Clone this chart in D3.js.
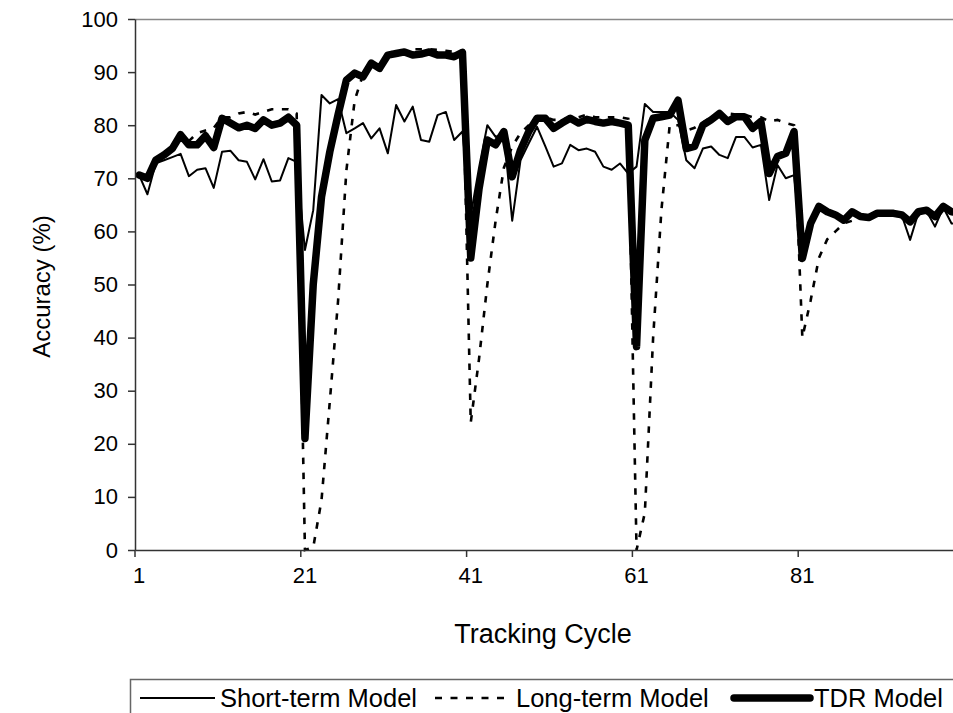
<!DOCTYPE html>
<html>
<head>
<meta charset="utf-8">
<script src="https://cdn.jsdelivr.net/npm/d3@7"></script>
<style>
  html, body { margin: 0; padding: 0; background: #fff; }
  svg { display: block; }
  text { font-family: "Liberation Sans", Arial, Helvetica, sans-serif; fill: #000; }
</style>
</head>
<body>
<svg id="chart" width="953" height="713"></svg>
<script>
// Tracking cycles 1..100
const cycles = d3.range(1, 101);

// Accuracy (%) per tracking cycle
const shortTerm = [
  70.6, 67.0, 72.8, 73.4, 74.0, 74.6, 70.4, 71.6, 71.9, 68.2,
  75.0, 75.2, 73.4, 73.1, 69.8, 73.6, 69.4, 69.6, 73.8, 73.1,
  56.5, 64.0, 85.7, 84.1, 84.9, 78.5, 79.4, 80.4, 77.5, 79.4,
  74.7, 83.8, 80.7, 83.5, 77.2, 76.9, 81.9, 82.5, 77.2, 78.8,
  63.0, 72.0, 80.0, 77.8, 78.5, 62.0, 73.4, 76.6, 79.7, 76.0,
  72.2, 72.8, 76.3, 75.3, 75.6, 75.0, 72.2, 71.6, 72.8, 70.9,
  72.2, 84.0, 82.5, 82.5, 82.5, 81.0, 73.4, 71.9, 75.6, 76.0,
  74.4, 73.8, 77.8, 77.8, 75.8, 76.3, 65.9, 72.5, 70.0, 70.6,
  56.0, 60.5, 64.5, 63.5, 63.0, 62.0, 63.5, 62.5, 62.5, 63.2,
  63.2, 63.2, 63.0, 58.4, 63.5, 63.8, 60.9, 64.5, 61.5, 61.5
];

const longTerm = [
  70.6, 70.0, 73.4, 74.4, 75.6, 78.2, 77.0, 78.5, 79.0, 79.5,
  81.5, 81.5, 82.2, 82.5, 82.0, 82.5, 83.0, 83.0, 83.0, 82.2,
  0.0, 0.5, 9.4, 28.0, 47.0, 71.5, 84.7, 89.5, 91.8, 91.0,
  93.5, 94.0, 94.0, 94.3, 94.3, 94.3, 94.2, 94.0, 93.8, 94.0,
  24.0, 36.0, 50.0, 62.0, 72.0, 76.0, 78.5, 80.0, 81.5, 81.5,
  81.0, 81.0, 81.5, 81.5, 82.0, 81.5, 81.5, 81.5, 81.5, 81.2,
  0.0, 7.0, 40.0, 64.0, 80.0, 80.0, 79.0, 79.5, 80.5, 81.5,
  82.0, 82.2, 82.0, 82.0, 81.5, 81.5, 80.7, 81.0, 80.4, 80.0,
  40.0, 47.0, 55.0, 58.5, 60.0, 61.5, 62.0, 62.8, 62.6, 63.4,
  63.4, 63.4, 63.1, 62.0, 63.5, 64.0, 63.0, 64.5, 63.7, 63.0
];

const tdr = [
  70.6, 70.0, 73.4, 74.4, 75.6, 78.2, 76.3, 76.3, 78.0, 75.8,
  81.3, 80.4, 79.5, 80.0, 79.4, 81.0, 80.0, 80.4, 81.5, 80.0,
  21.0, 50.0, 66.5, 75.0, 82.0, 88.5, 89.8, 89.1, 91.7, 90.7,
  93.2, 93.5, 93.8, 93.2, 93.4, 93.8, 93.2, 93.2, 92.9, 93.7,
  55.0, 68.0, 77.2, 76.3, 78.8, 70.3, 75.3, 78.8, 81.3, 81.3,
  79.4, 80.4, 81.3, 80.4, 81.1, 80.7, 80.4, 80.7, 80.4, 80.0,
  38.3, 77.2, 81.3, 81.6, 81.9, 84.7, 75.6, 76.0, 80.0, 81.0,
  82.2, 80.7, 81.6, 81.6, 79.4, 80.7, 70.9, 74.1, 74.7, 78.8,
  54.9, 61.5, 64.7, 63.7, 63.1, 62.1, 63.7, 62.8, 62.6, 63.4,
  63.4, 63.4, 63.1, 61.8, 63.7, 64.0, 62.8, 64.7, 63.7, 63.5
];

const xTickLabels = [1, 21, 41, 61, 81];
const yTicks = d3.range(0, 101, 10);
const seriesNames = ["Short-term Model", "Long-term Model", "TDR Model"];

const svg = d3.select("#chart");
const plot = { left: 135, top: 19, bottom: 550, right: 964 };

const x = d3.scaleBand().domain(cycles).range([plot.left, plot.right]).paddingInner(0).paddingOuter(0);
const bw = x.bandwidth();
const cx = d => x(d) + bw / 2;
const y = d3.scaleLinear().domain([0, 100]).range([plot.bottom, plot.top]);

// plot frame (top edge)
svg.append("line")
  .attr("x1", plot.left).attr("x2", plot.right)
  .attr("y1", plot.top + 0.5).attr("y2", plot.top + 0.5)
  .attr("stroke", "#888").attr("stroke-width", 1.5);

// series lines
const line = d3.line().x((d, i) => cx(cycles[i])).y(d => y(d));
const g = svg.append("g");

g.append("path").datum(shortTerm)
  .attr("d", line).attr("fill", "none").attr("stroke", "#000")
  .attr("stroke-width", 2).attr("stroke-linejoin", "round");

g.append("path").datum(longTerm)
  .attr("d", line).attr("fill", "none").attr("stroke", "#000")
  .attr("stroke-width", 2.6).attr("stroke-dasharray", "6.5,8.5");

g.append("path").datum(tdr)
  .attr("d", line).attr("fill", "none").attr("stroke", "#000")
  .attr("stroke-width", 7.5).attr("stroke-linejoin", "round").attr("stroke-linecap", "round");

// y axis
const yAxis = svg.append("g")
  .attr("transform", `translate(${plot.left},0)`)
  .call(d3.axisLeft(y).tickValues(yTicks).tickSize(7).tickPadding(10).tickSizeOuter(0));
yAxis.select(".domain").attr("stroke", "#333").attr("stroke-width", 1.5);
yAxis.selectAll(".tick line").attr("stroke", "#333").attr("stroke-width", 1.5);
yAxis.selectAll(".tick text").style("font-size", "22px").attr("fill", "#000");

// x axis: tick marks on category boundaries, labels centred on categories
const xAxis = svg.append("g")
  .attr("transform", `translate(0,${plot.bottom})`)
  .call(d3.axisBottom(x).tickValues(xTickLabels).tickSize(7).tickPadding(10).tickSizeOuter(0));
xAxis.select(".domain").attr("stroke", "#333").attr("stroke-width", 1.5);
xAxis.selectAll(".tick line")
  .attr("x1", -bw / 2).attr("x2", -bw / 2)
  .attr("stroke", "#333").attr("stroke-width", 1.5);
xAxis.selectAll(".tick text").style("font-size", "22px").attr("fill", "#000");

// axis titles
svg.append("text")
  .attr("transform", `translate(41,${(plot.top + plot.bottom) / 2 + 2}) rotate(-90)`)
  .attr("text-anchor", "middle").attr("dominant-baseline", "central")
  .style("font-size", "24px").text("Accuracy (%)");

svg.append("text")
  .attr("x", 543).attr("y", 643)
  .attr("text-anchor", "middle")
  .style("font-size", "27px").text("Tracking Cycle");

// legend
const lg = svg.append("g");
lg.append("rect")
  .attr("x", 130.5).attr("y", 679.5).attr("width", 900).attr("height", 60)
  .attr("fill", "#fff").attr("stroke", "#666").attr("stroke-width", 1.5);

const legendItems = [
  { name: seriesNames[0], x1: 140, x2: 215, tx: 220, w: 2, dash: null },
  { name: seriesNames[1], x1: 435, x2: 510, tx: 516, w: 2.6, dash: "7,8.5" },
  { name: seriesNames[2], x1: 734, x2: 810, tx: 814, w: 7.5, dash: null }
];
legendItems.forEach(it => {
  lg.append("line")
    .attr("x1", it.x1).attr("x2", it.x2).attr("y1", 698).attr("y2", 698)
    .attr("stroke", "#000").attr("stroke-width", it.w)
    .attr("stroke-dasharray", it.dash)
    .attr("stroke-linecap", it.w > 5 ? "round" : "butt");
  lg.append("text")
    .attr("x", it.tx).attr("y", 707)
    .style("font-size", "25.5px").text(it.name);
});
</script>
</body>
</html>
